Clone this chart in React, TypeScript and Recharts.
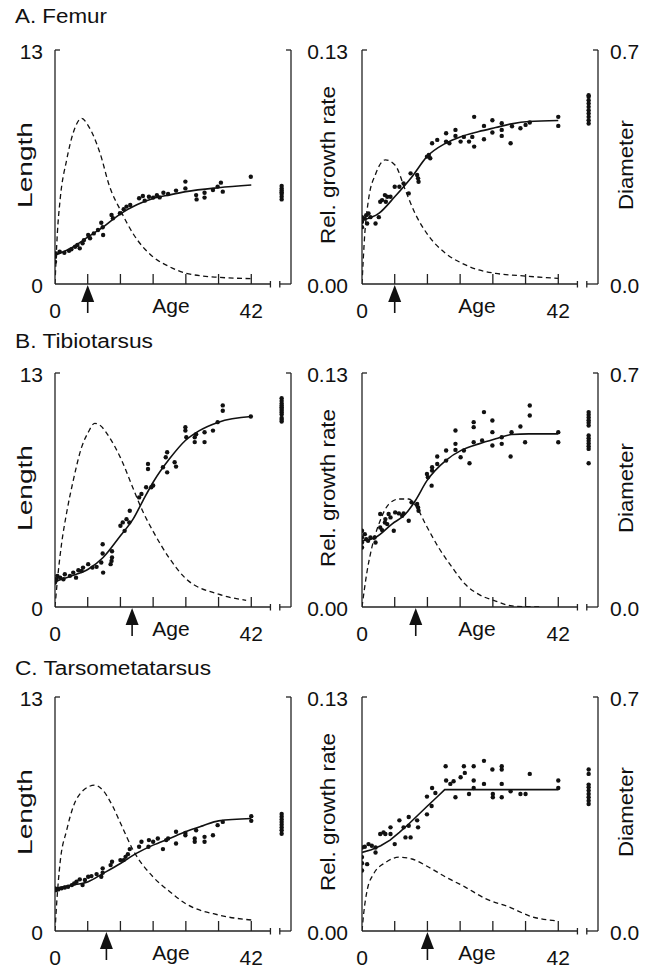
import React from 'react';
import { ComposedChart, Line, Scatter, XAxis, YAxis, ReferenceLine } from 'recharts';

type Pair = [number, number];

// ---------------- data: A. Femur ----------------
const femurLengthPoints: Pair[] = [
  [0, 1.52], [0, 1.24], [0.2, 1.7], [1, 1.8], [2, 1.74], [3, 1.85], [3.5, 1.93], [4.3, 2.07], [4.8, 2.17],
  [5.3, 1.98], [5.9, 2.26], [6.2, 2.44], [7.1, 2.72], [7.5, 2.54], [8.3, 2.81], [9.2, 3.0], [9.9, 3.4],
  [10.2, 3.15], [10.3, 2.72], [12.1, 3.83], [12.4, 3.65], [13.9, 3.93], [14.7, 4.15], [15.3, 4.3], [16.1, 4.39],
  [18, 4.76], [18.8, 4.89], [19.2, 4.63], [20.1, 4.85], [21, 4.8], [21.8, 4.93], [22.4, 4.81], [23.2, 5.07],
  [24.2, 5.0], [25.9, 5.19], [27.9, 5.69], [27.9, 5.31], [30.2, 4.94], [30.3, 4.7], [32, 5.07], [32, 4.8],
  [33.8, 5.22], [34.8, 5.41], [35.5, 5.63], [35.9, 5.13], [41.9, 5.96],
];
const femurLengthFit: Pair[] = [
  [0, 1.6], [3.5, 2.0], [7, 2.6], [10.5, 3.2], [14, 3.9], [17.5, 4.4], [21, 4.75], [24.5, 4.95], [28, 5.13],
  [35, 5.35], [42, 5.5],
];
const femurLengthRate: Pair[] = [
  [0, 0], [0.5, 0.028], [1.1, 0.047], [2.5, 0.069], [3.9, 0.084], [5.7, 0.092], [7.1, 0.088], [9.6, 0.073],
  [11.7, 0.054], [14, 0.041], [16.7, 0.028], [21, 0.015], [24.5, 0.0096], [28, 0.006], [35, 0.0037], [42, 0.003],
];
const femurLengthAdult: number[] = [4.7, 4.85, 5.0, 5.1, 5.2, 5.3, 5.45];

const femurDiameterPoints: Pair[] = [
  [0, 0.2], [0, 0.186], [0, 0.17], [0.6, 0.196], [0.9, 0.206], [1.1, 0.181], [1.4, 0.211], [1.8, 0.2],
  [2.9, 0.181], [3.6, 0.2], [3.9, 0.246], [4.3, 0.251], [4.9, 0.266], [5.1, 0.246], [5.4, 0.261], [6.1, 0.261],
  [7, 0.291], [8, 0.291], [8.9, 0.301], [10, 0.271], [10.4, 0.331], [11.8, 0.326], [12, 0.316], [12.1, 0.306],
  [13.9, 0.381], [14.3, 0.386], [14.6, 0.376], [15, 0.421], [16.1, 0.431], [18, 0.451], [18, 0.426],
  [18.7, 0.421], [20, 0.461], [20, 0.443], [21.1, 0.426], [21.8, 0.44], [22.9, 0.426], [23.6, 0.44],
  [24, 0.5], [24, 0.411], [26.1, 0.473], [26.1, 0.433], [27.9, 0.49], [27.9, 0.453], [29.9, 0.481],
  [29.9, 0.461], [29.9, 0.443], [31.8, 0.421], [32.1, 0.472], [33.9, 0.466], [35, 0.476], [35.9, 0.483],
  [42, 0.5], [42, 0.473],
];
const femurDiameterFit: Pair[] = [
  [0, 0.191], [3.6, 0.211], [7, 0.261], [10.7, 0.321], [13.9, 0.381], [17.9, 0.421], [21, 0.44], [25, 0.456],
  [28.6, 0.468], [32, 0.479], [35.7, 0.486], [42, 0.489],
];
const femurDiameterRate: Pair[] = [
  [0, 0], [0.6, 0.028], [1.4, 0.047], [2.9, 0.061], [5, 0.069], [7.1, 0.066], [9.3, 0.052], [11.4, 0.039],
  [13.9, 0.028], [17.9, 0.017], [21.4, 0.0115], [25, 0.0078], [28.6, 0.0059], [35, 0.0044], [42, 0.0031],
];
const femurDiameterAdult: number[] = [0.48, 0.49, 0.5, 0.51, 0.52, 0.53, 0.54, 0.55, 0.56, 0.565];

// ---------------- data: B. Tibiotarsus ----------------
const tibioLengthPoints: Pair[] = [
  [0, 1.36], [0.2, 1.54], [0.5, 1.73], [1.1, 1.63], [1.8, 1.54], [2.1, 1.82], [3.2, 1.73], [3.9, 1.91],
  [4.5, 1.63], [5, 2.04], [5.7, 2.0], [6, 2.19], [7.1, 2.38], [8, 2.19], [8.9, 2.23], [9.9, 2.47], [10.2, 2.97],
  [10.2, 3.49], [10.3, 1.91], [11.9, 2.38], [12.1, 2.56], [12.2, 2.75], [12.2, 3.1], [14, 4.51], [14.5, 4.7],
  [14.9, 4.23], [15.3, 4.88], [16, 5.35], [15.9, 4.7], [18, 6.09], [18.5, 6.28], [19.5, 6.65], [20.6, 6.65],
  [21, 6.75], [19.9, 7.95], [19.9, 7.67], [23.1, 7.76], [23.7, 8.32], [24, 8.6], [24, 7.48], [25.6, 8.04],
  [25.9, 7.8], [27.9, 9.99], [27.9, 9.8], [28.1, 9.43], [29.9, 9.43], [29.9, 9.16], [30.2, 9.6], [32, 9.71],
  [32, 9.16], [33.8, 9.8], [34.8, 10.27], [35.9, 11.2], [35.9, 10.9], [41.9, 10.58],
];
const tibioLengthFit: Pair[] = [
  [0, 1.41], [3.6, 1.73], [7.1, 2.1], [10.3, 2.75], [14, 3.96], [16.7, 4.88], [18.8, 5.9], [21, 6.93],
  [24.5, 8.23], [27.9, 9.25], [30.9, 9.8], [35, 10.27], [42, 10.58],
];
const tibioLengthRate: Pair[] = [
  [0, 0], [0.5, 0.0145], [1.4, 0.035], [2.5, 0.0525], [3.9, 0.0702], [5.7, 0.0888], [7.1, 0.097], [8.5, 0.102],
  [9.6, 0.101], [11.7, 0.094], [14, 0.083], [16.7, 0.066], [18.8, 0.053], [21, 0.042], [24.5, 0.027],
  [27.9, 0.016], [35, 0.0071], [40.9, 0.0037],
];
const tibioLengthAdult: number[] = [10.3, 10.4, 10.5, 10.7, 10.8, 10.9, 11.0, 11.1, 11.2, 11.3, 11.45, 11.6];

const tibioDiameterPoints: Pair[] = [
  [0, 0.228], [0, 0.208], [0, 0.193], [0, 0.178], [0.6, 0.218], [0.9, 0.203], [1.3, 0.198], [1.8, 0.208],
  [2.7, 0.208], [2.9, 0.193], [3.9, 0.278], [3.9, 0.238], [4.3, 0.23], [4.9, 0.253], [5, 0.263], [5.4, 0.248],
  [5.7, 0.278], [6.1, 0.268], [6.8, 0.228], [7.1, 0.283], [7.9, 0.28], [8.6, 0.273], [8.9, 0.28], [10, 0.258],
  [10.6, 0.313], [11.8, 0.308], [12, 0.298], [12.1, 0.288], [13.9, 0.398], [14.1, 0.388], [14.9, 0.363],
  [15, 0.418], [15, 0.408], [16.1, 0.45], [16.1, 0.428], [18, 0.468], [18, 0.438], [20, 0.528], [20, 0.488],
  [20, 0.47], [21.1, 0.448], [21.8, 0.468], [23, 0.43], [23.9, 0.553], [23.9, 0.538], [23.9, 0.493],
  [25.7, 0.498], [26.1, 0.583], [27.9, 0.558], [27.9, 0.523], [27.9, 0.483], [29.9, 0.508], [29.9, 0.488],
  [31.8, 0.45], [32, 0.523], [33.9, 0.54], [34.9, 0.493], [35.9, 0.603], [35.9, 0.573], [42, 0.523], [42, 0.493],
];
const tibioDiameterFit: Pair[] = [
  [0, 0.198], [2.9, 0.208], [6.4, 0.248], [9.3, 0.278], [11.4, 0.318], [13.9, 0.378], [17.9, 0.438],
  [21.4, 0.47], [25, 0.488], [28.6, 0.503], [32, 0.516], [35.7, 0.518], [42, 0.518],
];
const tibioDiameterRate: Pair[] = [
  [0, 0], [1.1, 0.02], [2.1, 0.033], [3.6, 0.046], [5.7, 0.057], [7.9, 0.06], [10, 0.06], [11.8, 0.055],
  [13.6, 0.046], [16.4, 0.033], [19.3, 0.022], [22.1, 0.0126], [25, 0.007], [28.6, 0.0033], [32.1, 0.0006],
  [37.9, 0],
];
const tibioDiameterAdult: number[] = [0.583, 0.575, 0.567, 0.559, 0.551, 0.543, 0.513, 0.505, 0.497, 0.489, 0.481, 0.473, 0.43];

// ---------------- data: C. Tarsometatarsus ----------------
const tarsoLengthPoints: Pair[] = [
  [0, 2.37], [0.2, 2.27], [0.7, 2.31], [1.4, 2.37], [2.1, 2.42], [2.8, 2.46], [3.6, 2.55], [4.1, 2.64],
  [4.6, 2.74], [5.3, 2.87], [5.9, 2.55], [6.4, 2.83], [7.1, 3.01], [7.8, 3.05], [8.9, 3.16], [9.9, 3.01],
  [10.2, 3.48], [10.2, 3.24], [11.9, 3.66], [12.2, 3.85], [14, 3.94], [14.7, 3.94], [15.1, 4.12], [16, 4.55],
  [15.6, 4.27], [18, 4.68], [18.5, 4.96], [20, 4.68], [20.1, 5.05], [21, 4.96], [22, 5.14], [23.1, 4.55],
  [23.8, 5.05], [24.2, 5.14], [25.9, 4.86], [25.9, 5.51], [27.9, 5.45], [27.9, 5.32], [29.9, 5.14],
  [29.9, 4.96], [30.2, 5.6], [32, 5.23], [32, 4.96], [33.8, 5.32], [34.8, 5.88], [35.9, 6.06], [42, 6.38],
  [42, 6.12],
];
const tarsoLengthFit: Pair[] = [
  [0, 2.37], [3.6, 2.55], [7.1, 2.74], [10.3, 3.2], [14, 3.75], [17.4, 4.31], [21, 4.77], [24.5, 5.14],
  [27.9, 5.51], [31.6, 5.84], [35, 6.12], [42, 6.25],
];
const tarsoLengthRate: Pair[] = [
  [0, 0], [0.35, 0.015], [1.07, 0.0375], [2.5, 0.056], [3.9, 0.069], [6, 0.078], [8.5, 0.081], [10.3, 0.078],
  [12.4, 0.069], [14, 0.06], [16.7, 0.045], [21, 0.03], [24.5, 0.022], [27.9, 0.0153], [35, 0.0089], [42, 0.0061],
];
const tarsoLengthAdult: number[] = [5.4, 5.6, 5.75, 5.9, 6.05, 6.2, 6.35, 6.5];

const tarsoDiameterPoints: Pair[] = [
  [0, 0.25], [0, 0.221], [0, 0.203], [0, 0.181], [0.6, 0.252], [1.1, 0.2], [1.4, 0.26], [2.1, 0.255],
  [2.9, 0.25], [2.9, 0.235], [3.9, 0.29], [4.6, 0.295], [5, 0.29], [6.1, 0.31], [6.1, 0.29], [7, 0.26],
  [8, 0.331], [8.9, 0.31], [9.3, 0.28], [10, 0.341], [10, 0.315], [10.4, 0.28], [11.8, 0.331], [12, 0.31],
  [13.9, 0.402], [13.9, 0.349], [14.9, 0.374], [15, 0.428], [15.7, 0.413], [17.9, 0.493], [18, 0.45],
  [18.9, 0.44], [19.6, 0.448], [20, 0.4], [21.1, 0.46], [21.8, 0.493], [22, 0.473], [22.9, 0.41],
  [23.9, 0.493], [23.9, 0.45], [23.9, 0.428], [26.1, 0.509], [26.1, 0.44], [27.9, 0.483], [28, 0.41],
  [28, 0.4], [29.9, 0.493], [29.9, 0.483], [29.9, 0.44], [29.9, 0.4], [31.8, 0.418], [33.9, 0.41],
  [35, 0.41], [35.9, 0.47], [42, 0.45], [42, 0.428],
];
const tarsoDiameterFit: Pair[] = [
  [0, 0.235], [2, 0.243], [4, 0.255], [6, 0.272], [8, 0.295], [10, 0.32], [12, 0.347], [14, 0.374],
  [16, 0.4], [17.7, 0.423], [42, 0.423],
];
const tarsoDiameterRate: Pair[] = [
  [0, 0], [0.36, 0.0097], [1.1, 0.0226], [2.5, 0.0318], [5, 0.038], [7.9, 0.041], [10.7, 0.04], [14.3, 0.0354],
  [17.9, 0.03], [22.1, 0.0244], [26.4, 0.018], [31.4, 0.0134], [36.4, 0.0079], [41.4, 0.0057],
];
const tarsoDiameterAdult: number[] = [0.483, 0.47, 0.438, 0.43, 0.42, 0.41, 0.4, 0.39, 0.38];

// ---------------- labels / ticks ----------------
const panelTitles = ['A. Femur', 'B. Tibiotarsus', 'C. Tarsometatarsus'];
const ageTicks = [0, 7, 14, 21, 28, 35, 42];
const ageLabelTicks = [0, 42];
const lengthTicks = [0, 13];
const rateTicks = [0, 0.13];
const diameterTicks = [0, 0.7];
const lengthArrowDays = [7, 16.5, 11];
const diameterArrowDays = [7, 11.5, 14];

const AGE_MAX = 50.5;
const BREAK_FROM = 46.1;
const BREAK_TO = 48.1;
const ADULT_AGE = 48.5;

// ---------------- layout ----------------
const FONT = '"Liberation Sans", Arial, Helvetica, sans-serif';
const INK = '#111111';
const AXIS = '#222222';
const TICK_FONT = 21;
const CHART_W = 343;
const CHART_H = 324;
const MARGIN = { top: 50, left: 15, right: 32, bottom: 10 };
const LEFT_AXIS_W = 40;
const RIGHT_AXIS_W = 20;
const X_AXIS_H = 30;
const ROW_TOPS = [0, 323, 647];
const COL_LEFTS = [0, 307];
const PLOT_TOP = 50;
const PLOT_BOTTOM = 284;

const toXY = (arr: Pair[]) => arr.map(([x, y]) => ({ x, y }));

function AgeTick(props: any) {
  const { x, y, payload, arrowDay } = props;
  const v = payload ? payload.value : undefined;
  const els: React.ReactNode[] = [];
  if (ageTicks.includes(v) && v > 0) {
    els.push(<line key="t" x1={x} y1={y} x2={x} y2={y - 10} stroke={AXIS} strokeWidth={1.3} />);
  }
  if (ageLabelTicks.includes(v)) {
    els.push(
      <text key="l" x={x} y={y + 34} textAnchor="middle" fontSize={TICK_FONT} fontFamily={FONT} fill={INK}>
        {String(v)}
      </text>
    );
  }
  if (v === BREAK_FROM || v === BREAK_TO) {
    els.push(<line key="b" x1={x} y1={y - 3} x2={x} y2={y + 3.5} stroke={AXIS} strokeWidth={1.3} />);
  }
  if (v === arrowDay) {
    els.push(
      <g key="a">
        <polygon points={`${x},${y + 1} ${x - 6.5},${y + 18} ${x + 6.5},${y + 18}`} fill={INK} />
        <line x1={x} y1={y + 17} x2={x} y2={y + 29} stroke={INK} strokeWidth={1.6} />
      </g>
    );
  }
  return <g>{els}</g>;
}

function ValueTick(props: any) {
  const { x, y, payload, side, fmt, showLabel, top, gap } = props;
  const v = payload ? payload.value : undefined;
  const isTop = v === top;
  const dir = side === 'left' ? 1 : -1;
  return (
    <g>
      {isTop && <line x1={x} y1={y} x2={x + dir * 5} y2={y} stroke={AXIS} strokeWidth={1.3} />}
      {showLabel && (
        <text
          x={side === 'left' ? x - gap : x + gap}
          y={y + 9}
          textAnchor={side === 'left' ? 'end' : 'start'}
          fontSize={TICK_FONT}
          fontFamily={FONT}
          fill={INK}
        >
          {fmt(v)}
        </text>
      )}
    </g>
  );
}

const dotShape = (p: any) => <circle cx={p.cx} cy={p.cy} r={2.2} fill={INK} />;

interface PanelProps {
  kind: 'length' | 'diameter';
  points: Pair[];
  fit: Pair[];
  rate: Pair[];
  adult: number[];
  arrowDay: number;
  fitType: 'monotone' | 'linear';
  left: number;
  top: number;
}

function Panel({ kind, points, fit, rate, adult, arrowDay, fitType, left, top }: PanelProps) {
  const isLen = kind === 'length';
  const xticks = Array.from(new Set([...ageTicks, arrowDay, BREAK_FROM, BREAK_TO])).sort((a, b) => a - b);
  const valueTicks = isLen ? lengthTicks : diameterTicks;
  const valueMax = valueTicks[1];
  const rateMax = rateTicks[1];
  const leftId = isLen ? 'value' : 'rate';
  const adultData = adult.map((v) => ({ x: ADULT_AGE, y: v }));
  return (
    <div style={{ position: 'absolute', left, top, width: CHART_W, height: CHART_H }}>
      <ComposedChart width={CHART_W} height={CHART_H} margin={MARGIN}>
        <XAxis
          type="number"
          dataKey="x"
          domain={[0, AGE_MAX]}
          allowDataOverflow
          ticks={xticks}
          interval={0}
          axisLine={false}
          tickLine={false}
          tickSize={0}
          tickMargin={0}
          height={X_AXIS_H}
          tick={(p: any) => <AgeTick {...p} arrowDay={arrowDay} />}
        />
        <YAxis
          yAxisId="value"
          dataKey="y"
          type="number"
          orientation={isLen ? 'left' : 'right'}
          width={isLen ? LEFT_AXIS_W : RIGHT_AXIS_W}
          domain={[0, valueMax]}
          allowDataOverflow
          ticks={valueTicks}
          interval={0}
          tickLine={false}
          tickSize={0}
          tickMargin={0}
          axisLine={{ stroke: AXIS, strokeWidth: 1.3 }}
          tick={(p: any) => (
            <ValueTick
              {...p}
              side={isLen ? 'left' : 'right'}
              top={valueMax}
              gap={12}
              showLabel
              fmt={(v: number) => (isLen ? String(v) : v.toFixed(1))}
            />
          )}
        />
        <YAxis
          yAxisId="rate"
          dataKey="y"
          type="number"
          orientation={isLen ? 'right' : 'left'}
          width={isLen ? RIGHT_AXIS_W : LEFT_AXIS_W}
          domain={[0, rateMax]}
          allowDataOverflow
          ticks={rateTicks}
          interval={0}
          tickLine={false}
          tickSize={0}
          tickMargin={0}
          axisLine={{ stroke: AXIS, strokeWidth: 1.3 }}
          tick={(p: any) => (
            <ValueTick
              {...p}
              side={isLen ? 'right' : 'left'}
              top={rateMax}
              gap={14}
              showLabel={!isLen}
              fmt={(v: number) => v.toFixed(2)}
            />
          )}
        />
        <ReferenceLine
          yAxisId={leftId}
          segment={[{ x: 0, y: 0 }, { x: BREAK_FROM, y: 0 }]}
          stroke={AXIS}
          strokeWidth={1.3}
          ifOverflow="visible"
        />
        <ReferenceLine
          yAxisId={leftId}
          segment={[{ x: BREAK_TO, y: 0 }, { x: AGE_MAX, y: 0 }]}
          stroke={AXIS}
          strokeWidth={1.3}
          ifOverflow="visible"
        />
        <Line
          yAxisId="rate"
          data={toXY(rate)}
          dataKey="y"
          type="monotone"
          stroke={INK}
          strokeWidth={1.3}
          strokeDasharray="5 3.5"
          dot={false}
          activeDot={false}
          isAnimationActive={false}
        />
        <Line
          yAxisId="value"
          data={toXY(fit)}
          dataKey="y"
          type={fitType}
          stroke={INK}
          strokeWidth={1.6}
          dot={false}
          activeDot={false}
          isAnimationActive={false}
        />
        <Scatter yAxisId="value" data={toXY(points)} dataKey="y" shape={dotShape} isAnimationActive={false} />
        <Scatter yAxisId="value" data={adultData} dataKey="y" shape={dotShape} isAnimationActive={false} />
      </ComposedChart>
    </div>
  );
}

const rows = [
  {
    len: { points: femurLengthPoints, fit: femurLengthFit, rate: femurLengthRate, adult: femurLengthAdult },
    dia: { points: femurDiameterPoints, fit: femurDiameterFit, rate: femurDiameterRate, adult: femurDiameterAdult },
    diaFit: 'monotone' as const,
  },
  {
    len: { points: tibioLengthPoints, fit: tibioLengthFit, rate: tibioLengthRate, adult: tibioLengthAdult },
    dia: { points: tibioDiameterPoints, fit: tibioDiameterFit, rate: tibioDiameterRate, adult: tibioDiameterAdult },
    diaFit: 'monotone' as const,
  },
  {
    len: { points: tarsoLengthPoints, fit: tarsoLengthFit, rate: tarsoLengthRate, adult: tarsoLengthAdult },
    dia: { points: tarsoDiameterPoints, fit: tarsoDiameterFit, rate: tarsoDiameterRate, adult: tarsoDiameterAdult },
    diaFit: 'linear' as const,
  },
];

const titleLengths = [92, 138, 196];
const titleBaselines = [23, 348, 675];

export default function App() {
  return (
    <div style={{ position: 'absolute', left: 0, top: 0, width: 650, height: 971, background: '#fff', overflow: 'hidden' }}>
      {rows.map((r, i) => (
        <React.Fragment key={i}>
          <Panel
            kind="length"
            {...r.len}
            arrowDay={lengthArrowDays[i]}
            fitType="monotone"
            left={COL_LEFTS[0]}
            top={ROW_TOPS[i]}
          />
          <Panel
            kind="diameter"
            {...r.dia}
            arrowDay={diameterArrowDays[i]}
            fitType={r.diaFit}
            left={COL_LEFTS[1]}
            top={ROW_TOPS[i]}
          />
        </React.Fragment>
      ))}
      <svg
        width={650}
        height={971}
        style={{ position: 'absolute', left: 0, top: 0, pointerEvents: 'none' }}
        fontFamily={FONT}
        fill={INK}
      >
        {panelTitles.map((t, i) => (
          <text key={t} x={15} y={titleBaselines[i]} fontSize={20} textLength={titleLengths[i]} lengthAdjust="spacingAndGlyphs">
            {t}
          </text>
        ))}
        {ROW_TOPS.map((rt, i) => {
          const cy = rt + PLOT_TOP + 115;
          const ageY = rt + PLOT_BOTTOM + 29;
          return (
            <g key={i}>
              <text x={32} y={cy} fontSize={21} textAnchor="middle" transform={`rotate(-90 32 ${cy})`} textLength={86} lengthAdjust="spacingAndGlyphs">
                Length
              </text>
              <text x={335} y={cy} fontSize={21} textAnchor="middle" transform={`rotate(-90 335 ${cy})`} textLength={158} lengthAdjust="spacingAndGlyphs">
                Rel. growth rate
              </text>
              <text x={633} y={cy} fontSize={21} textAnchor="middle" transform={`rotate(-90 633 ${cy})`} textLength={90} lengthAdjust="spacingAndGlyphs">
                Diameter
              </text>
              <text x={171} y={ageY} fontSize={TICK_FONT} textAnchor="middle">Age</text>
              <text x={477} y={ageY} fontSize={TICK_FONT} textAnchor="middle">Age</text>
            </g>
          );
        })}
      </svg>
    </div>
  );
}
